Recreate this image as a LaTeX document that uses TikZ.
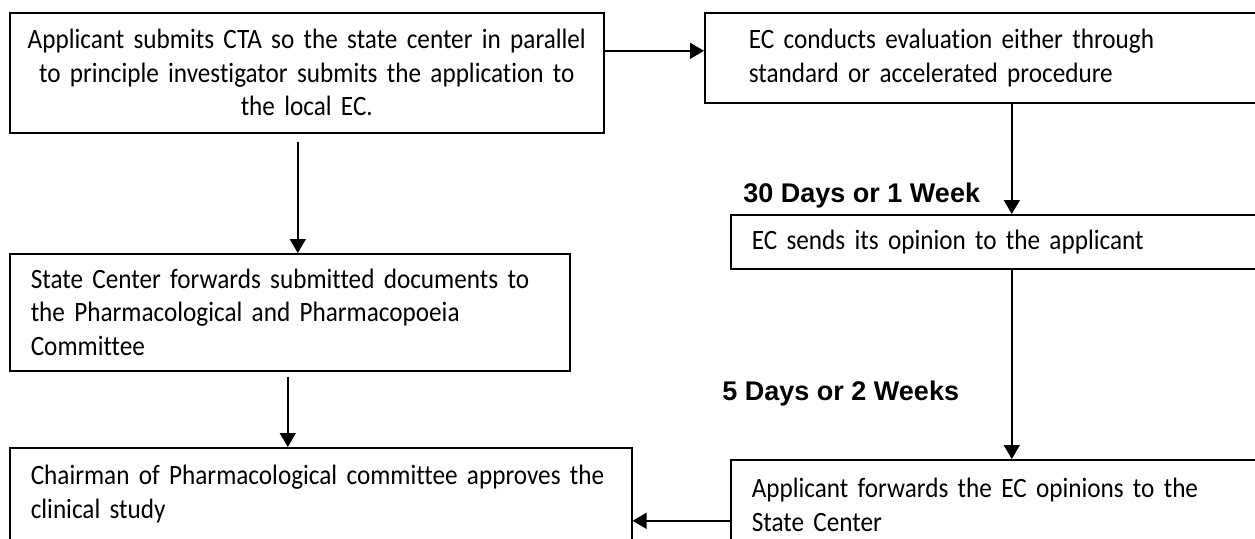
\documentclass[tikz,border=0pt]{standalone}
\usepackage{fontspec}
\setmainfont{Carlito}[Ligatures={NoCommon}, FakeStretch=0.9]
\newfontfamily\lblfont{Liberation Sans}
\usetikzlibrary{arrows.meta,calc}
\tikzset{
	box/.style={draw, line width=0.8pt, anchor=north west, inner xsep=10.5pt, inner ysep=0pt, align=left, font=\fontsize{14}{16.75}\selectfont},
	arr/.style={line width=0.8pt, -{Triangle[length=7pt,width=8pt]}},
	lbl/.style={anchor=base west, inner sep=0pt, font=\lblfont\bfseries\fontsize{13.5}{16}\selectfont}
}

\begin{document}
\begin{tikzpicture}[x=0.5pt, y=-0.5pt]
			%%%%% START %%%%%
			\useasboundingbox (0, 0) rectangle (1255, 538);
			\clip (0, 0) rectangle (1255, 538);
			
			\node[box, align=center, inner xsep=2pt, text width=293pt, minimum height=60pt] (A) at (9, 12)
				{Applicant submits CTA so the state center in parallel\\ to principle investigator submits the application to\\ the local EC.};
			\node[box, inner xsep=22pt, text width=263pt, minimum height=45pt] (B) at (704, 12)
				{EC conducts evaluation either through\\ standard or accelerated procedure};
			\node[box, text width=260pt, minimum height=27pt] (C) at (730, 214)
				{EC sends its opinion to the applicant};
			\node[box, text width=260pt, minimum height=45pt] (D) at (730, 459)
				{Applicant forwards the EC opinions to the\\ State Center};
			\node[box, text width=259pt, minimum height=58.5pt] (E) at (9, 253)
				{State Center forwards submitted documents to\\ the Pharmacological and Pharmacopoeia\\ Committee};
			\node[box, text width=290pt, minimum height=46pt] (F) at (9, 447)
				{Chairman of Pharmacological committee approves the\\ clinical study};
			
			\node[lbl] (d30) at (743, 202) {30 Days or 1 Week};
			\node[lbl] (d5) at (722, 400) {5 Days or 2 Weeks};
			
			\coordinate (ab) at ($(B.west)+(0, -7)$);
			\draw[arr] (ab -| A.east) -- (ab);
			\draw[arr] (B.south) -- (C.north);
			\draw[arr] (C.south) -- (D.north);
			\draw[arr] ($(D.west)+(0, 16)$) coordinate (df) -- (df -| F.east);
			\draw[arr] ($(A.south)+(-9, 8)$) coordinate (ae) -- (ae |- E.north);
			\draw[arr] ($(E.south)+(-2, 5)$) coordinate (ef) -- (ef |- F.north);
			
			%%%%% END %%%%%
\end{tikzpicture}
\end{document}
